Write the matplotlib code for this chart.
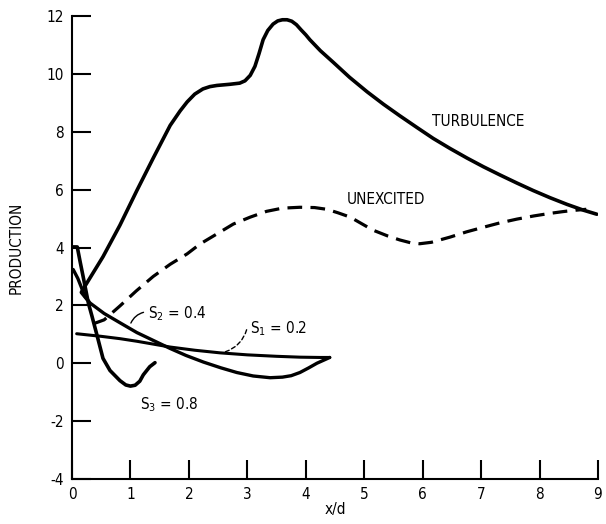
import matplotlib
matplotlib.use("Agg")
import matplotlib.pyplot as plt

# ---- data ----
turb_x = [0.26, 0.16, 0.19, 0.53, 0.82, 1.11, 1.39, 1.68, 1.85, 1.97, 2.10, 2.24, 2.36, 2.48, 2.70,
          2.87, 2.96, 3.05, 3.13, 3.20, 3.27, 3.35, 3.44, 3.52, 3.60, 3.68, 3.76, 3.84, 3.92, 4.00,
          4.07, 4.25, 4.47, 4.75, 5.05, 5.33, 5.61, 5.90, 6.18, 6.47, 6.76, 7.04, 7.32, 7.61, 7.89,
          8.18, 8.47, 8.75, 8.98]
turb_y = [2.20, 2.45, 2.56, 3.68, 4.77, 5.97, 7.09, 8.22, 8.72, 9.03, 9.30, 9.48, 9.56, 9.60, 9.64,
          9.68, 9.76, 9.95, 10.26, 10.70, 11.18, 11.50, 11.72, 11.83, 11.87, 11.87, 11.82, 11.70, 11.52, 11.35,
          11.18, 10.80, 10.40, 9.88, 9.38, 8.95, 8.55, 8.15, 7.77, 7.42, 7.09, 6.79, 6.51, 6.23, 5.97,
          5.72, 5.49, 5.29, 5.15]

unex_x = [0.36, 0.55, 0.82, 1.10, 1.39, 1.68, 1.97, 2.19, 2.48, 2.76, 3.05, 3.33, 3.60, 3.90,
          4.15, 4.36, 4.55, 4.76, 4.95, 5.15, 5.40, 5.61, 5.80, 5.95, 6.15, 6.47, 6.75, 7.04, 7.32,
          7.61, 7.90, 8.18, 8.40, 8.57, 8.80]
unex_y = [1.36, 1.50, 1.98, 2.50, 3.00, 3.42, 3.78, 4.12, 4.47, 4.81, 5.05, 5.25, 5.36, 5.39,
          5.38, 5.32, 5.20, 5.05, 4.83, 4.60, 4.40, 4.26, 4.16, 4.13, 4.18, 4.36, 4.54, 4.70, 4.85,
          4.98, 5.09, 5.18, 5.24, 5.28, 5.32]

s1_x = [0.08, 0.50, 0.82, 1.11, 1.68, 2.10, 2.53, 3.00, 3.50, 3.90, 4.24, 4.41]
s1_y = [1.02, 0.93, 0.85, 0.76, 0.56, 0.45, 0.36, 0.29, 0.24, 0.21, 0.20, 0.20]

s2_x = [0.02, 0.10, 0.22, 0.31, 0.55, 0.82, 1.11, 1.40, 1.68, 1.95, 2.25, 2.55, 2.82, 3.10,
        3.39, 3.60, 3.75, 3.90, 4.05, 4.19, 4.41]
s2_y = [3.24, 2.93, 2.32, 2.08, 1.72, 1.40, 1.06, 0.78, 0.51, 0.27, 0.04, -0.16, -0.32, -0.44,
        -0.50, -0.48, -0.43, -0.32, -0.16, 0.00, 0.20]

s3_x = [0.02, 0.09, 0.14, 0.19, 0.28, 0.34, 0.43, 0.53, 0.65, 0.82, 0.92, 1.00, 1.08, 1.16, 1.22, 1.33, 1.42]
s3_y = [4.02, 4.02, 3.50, 3.00, 2.08, 1.64, 0.95, 0.17, -0.25, -0.60, -0.75, -0.79, -0.76, -0.62, -0.40, -0.12, 0.02]

x_ticks = [0, 1, 2, 3, 4, 5, 6, 7, 8, 9]
y_ticks = [-4, -2, 0, 2, 4, 6, 8, 10, 12]

# ---- figure ----
plt.rcParams['font.family'] = ['DejaVu Sans']
plt.rcParams['font.stretch'] = 'condensed'
plt.rcParams['axes.unicode_minus'] = False
fig = plt.figure(figsize=(6.06, 5.24), dpi=100)
ax = fig.add_axes([72/606, 1-479/524, (598-72)/606, (479-16)/524])

ax.plot(turb_x, turb_y, color='black', lw=2.6, solid_joinstyle='round', solid_capstyle='round')
ax.plot(unex_x, unex_y, color='black', lw=2.3, linestyle=(0, (4.6, 2.6)), dash_capstyle='butt')
ax.plot(s1_x, s1_y, color='black', lw=2.2, solid_joinstyle='round', solid_capstyle='round')
ax.plot(s2_x, s2_y, color='black', lw=2.4, solid_joinstyle='round', solid_capstyle='round')
ax.plot(s3_x, s3_y, color='black', lw=2.6, solid_joinstyle='round', solid_capstyle='round')

ax.set_xlim(0, 9)
ax.set_ylim(-4, 12)
ax.set_xticks(x_ticks)
ax.set_yticks(y_ticks)
ax.spines['top'].set_visible(False)
ax.spines['right'].set_visible(False)
ax.spines['left'].set_linewidth(1.5)
ax.spines['bottom'].set_linewidth(1.5)
ax.tick_params(direction='in', length=14, width=1.5, labelsize=11, pad=6)

ax.set_xlabel('x/d', fontsize=11, labelpad=0)
ax.set_ylabel('PRODUCTION', fontsize=11, labelpad=16)

tkw = dict(fontsize=11, color='black')
ax.text(6.95, 8.35, 'TURBULENCE', ha='center', va='center', **tkw)
ax.text(5.37, 5.66, 'UNEXCITED', ha='center', va='center', **tkw)
ax.text(1.30, 1.72, r'S$_2$ = 0.4', ha='left', va='center', **tkw)
ax.text(3.05, 1.19, r'S$_1$ = 0.2', ha='left', va='center', **tkw)
ax.text(1.16, -1.44, r'S$_3$ = 0.8', ha='left', va='center', **tkw)

ax.annotate('', xy=(0.99, 1.30), xytext=(1.27, 1.78),
            arrowprops=dict(arrowstyle='-', lw=1.0, color='black',
                            connectionstyle='arc3,rad=0.3'))
ax.annotate('', xy=(2.58, 0.37), xytext=(3.00, 1.25),
            arrowprops=dict(arrowstyle='-', lw=1.0, color='black', linestyle=(0, (3, 2)),
                            connectionstyle='arc3,rad=-0.3'))

fig.savefig('out.png', dpi=100)
